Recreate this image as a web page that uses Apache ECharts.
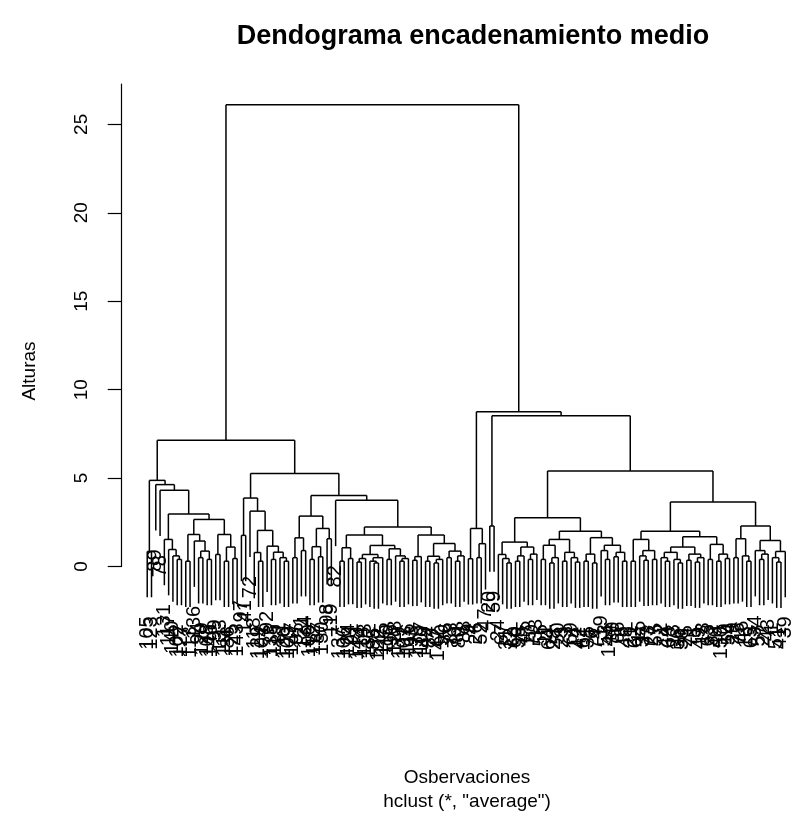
<!DOCTYPE html>
<html>
<head>
<meta charset="utf-8">
<script src="https://cdn.jsdelivr.net/npm/echarts@6/dist/echarts.min.js"></script>
<style>
  html, body { margin: 0; padding: 0; background: #ffffff; }
  #chart { width: 791px; height: 830px; }
</style>
</head>
<body>
<div id="chart"></div>
<script>
// Observation labels in dendrogram (left-to-right) order
const leafLabels = [
  105, 123, 89, 78, 131, 117, 140, 102, 127, 7, 113, 136, 94, 120, 108, 146, 99, 133, 111, 86,
  125, 143, 97, 141, 72, 118, 129, 104, 92, 138, 115, 81, 126, 109, 147, 95, 121, 134, 100, 112,
  87, 130, 98, 119, 82, 137, 106, 124, 91, 148, 114, 103, 132, 85, 122, 145, 110, 96, 128, 139,
  101, 116, 93, 135, 107, 149, 84, 77, 142, 90, 76, 83, 79, 80, 88,
  9, 4, 26, 52, 47, 20, 59, 24, 67, 31, 12, 60, 38, 45, 17, 70, 33, 56, 11, 64,
  28, 50, 23, 3, 69, 14, 42, 61, 35, 6, 74, 19, 53, 144, 30, 66, 8, 48, 21, 62,
  15, 37, 73, 27, 55, 2, 44, 68, 13, 36, 58, 25, 71, 5, 49, 18, 63, 32, 40, 150,
  10, 54, 29, 75, 46, 16, 65, 34, 57, 22, 43, 1, 51, 41, 39
];

// Merge height joining each pair of neighbouring leaves (cophenetic height)
const mergeGaps = [
  0.85, 4.87, 4.63, 4.31, 1.53, 0.96, 0.60, 0.40, 2.97, 0.30,
  1.81, 1.44, 0.50, 0.87, 0.40, 2.66, 0.68, 1.81, 0.30, 1.10,
  0.45, 7.14, 1.76, 3.87, 3.13, 0.79, 0.30, 2.04, 1.15, 0.40,
  0.81, 0.50, 0.30, 5.26, 0.50, 1.62, 0.90, 2.85, 0.40, 1.12,
  0.55, 2.15, 1.57, 4.02, 3.74, 0.30, 1.06, 0.45, 1.78, 0.25,
  0.45, 0.68, 0.30, 0.20, 0.50, 1.19, 0.40, 1.00, 0.60, 0.30,
  0.45, 2.23, 0.35, 0.56, 1.78, 0.30, 0.58, 0.20, 0.40, 1.30,
  0.50, 0.87, 0.30, 0.60, 26.10, 0.44, 2.15, 0.50, 1.29, 8.75,
  2.29, 8.52, 0.68, 0.45, 0.20, 1.38, 0.30, 0.60, 1.10, 0.40,
  0.70, 2.76, 0.40, 1.20, 0.20, 0.50, 1.53, 0.30, 0.80, 0.50,
  0.25, 2.00, 0.30, 0.70, 0.20, 1.63, 0.90, 0.40, 1.20, 0.55,
  0.80, 0.30, 5.40, 0.30, 1.53, 0.60, 0.35, 0.90, 0.40, 2.00,
  0.50, 0.30, 0.80, 0.40, 0.20, 1.10, 0.35, 0.70, 0.25, 0.50,
  1.68, 0.40, 1.25, 0.30, 0.70, 0.45, 3.65, 0.50, 1.57, 0.60,
  0.30, 2.29, 0.90, 0.40, 0.70, 1.47, 0.50, 0.25, 0.85
];

const heightTicks = [0, 5, 10, 15, 20, 25];

const FONT = '"Liberation Sans", Arial, Helvetica, sans-serif';
const nLeaves = leafLabels.length;
const hMax = Math.max(...mergeGaps);
const hMin = Math.min(...mergeGaps);
const hang = 0.1 * (hMax - hMin);

// Rebuild the binary tree: the largest neighbour height inside a run of
// leaves is the merge that splits that run into its two children.
const segments = [];
const leafEnds = [];
function build(lo, hi) {
  if (lo === hi) return { x: lo + 1, h: 0, leaf: true };
  let k = lo;
  for (let i = lo; i < hi; i++) if (mergeGaps[i] > mergeGaps[k]) k = i;
  const h = mergeGaps[k];
  const left = build(lo, k);
  const right = build(k + 1, hi);
  segments.push([left.x, h, right.x, h]);
  [left, right].forEach(function (c) {
    const bottom = c.leaf ? h - hang : c.h;
    segments.push([c.x, h, c.x, bottom]);
    if (c.leaf) leafEnds.push([c.x, bottom, c.x - 1]);
  });
  return { x: (left.x + right.x) / 2, h: h, leaf: false };
}
build(0, nLeaves - 1);

const chart = echarts.init(document.getElementById('chart'), null, { renderer: 'canvas' });

chart.setOption({
  backgroundColor: '#ffffff',
  animation: false,
  title: {
    text: 'Dendograma encadenamiento medio',
    left: 468,
    top: 18,
    textAlign: 'center',
    textStyle: { fontFamily: FONT, fontWeight: 'bold', fontSize: 27, color: '#000' }
  },
  grid: { left: 121.7, right: 0, top: 84, bottom: 263.5, outerBoundsMode: 'none' },
  xAxis: {
    type: 'value',
    min: -4.96,
    max: 151.34,
    show: false
  },
  yAxis: {
    type: 'value',
    min: 0,
    max: 27.28,
    interval: 5,
    axisLine: { show: true, onZero: false, lineStyle: { color: '#000', width: 1.2 } },
    axisTick: { show: true, length: 14, lineStyle: { color: '#000', width: 1.2 } },
    axisLabel: {
      show: true,
      rotate: 90,
      margin: 30,
      showMaxLabel: false,
      fontFamily: FONT,
      fontSize: 19,
      color: '#000'
    },
    splitLine: { show: false }
  },
  graphic: [
    {
      type: 'text', x: 30, y: 371, rotation: Math.PI / 2,
      style: { text: 'Alturas', font: '19px ' + FONT, fill: '#000', align: 'center', verticalAlign: 'middle' }
    },
    {
      type: 'text', x: 467, y: 778,
      style: { text: 'Osbervaciones', font: '19px ' + FONT, fill: '#000', align: 'center', verticalAlign: 'middle' }
    },
    {
      type: 'text', x: 467, y: 802,
      style: { text: 'hclust (*, "average")', font: '19px ' + FONT, fill: '#000', align: 'center', verticalAlign: 'middle' }
    }
  ],
  series: [
    {
      type: 'custom',
      name: 'ramas',
      coordinateSystem: 'cartesian2d',
      clip: false,
      silent: true,
      data: segments,
      encode: { x: [0, 2], y: [1, 3] },
      renderItem: function (params, api) {
        const p1 = api.coord([api.value(0), api.value(1)]);
        const p2 = api.coord([api.value(2), api.value(3)]);
        return {
          type: 'line',
          shape: { x1: p1[0], y1: p1[1], x2: p2[0], y2: p2[1] },
          style: { stroke: '#000', lineWidth: 1.5 }
        };
      }
    },
    {
      type: 'custom',
      name: 'etiquetas',
      coordinateSystem: 'cartesian2d',
      clip: false,
      silent: true,
      data: leafEnds,
      encode: { x: 0, y: 1 },
      renderItem: function (params, api) {
        const p = api.coord([api.value(0), api.value(1)]);
        return {
          type: 'text',
          x: p[0],
          y: p[1] + 19,
          rotation: Math.PI / 2,
          style: {
            text: String(leafLabels[api.value(2)]),
            font: '20px ' + FONT,
            fill: '#000',
            align: 'right',
            verticalAlign: 'middle'
          }
        };
      }
    }
  ]
});
</script>
</body>
</html>
